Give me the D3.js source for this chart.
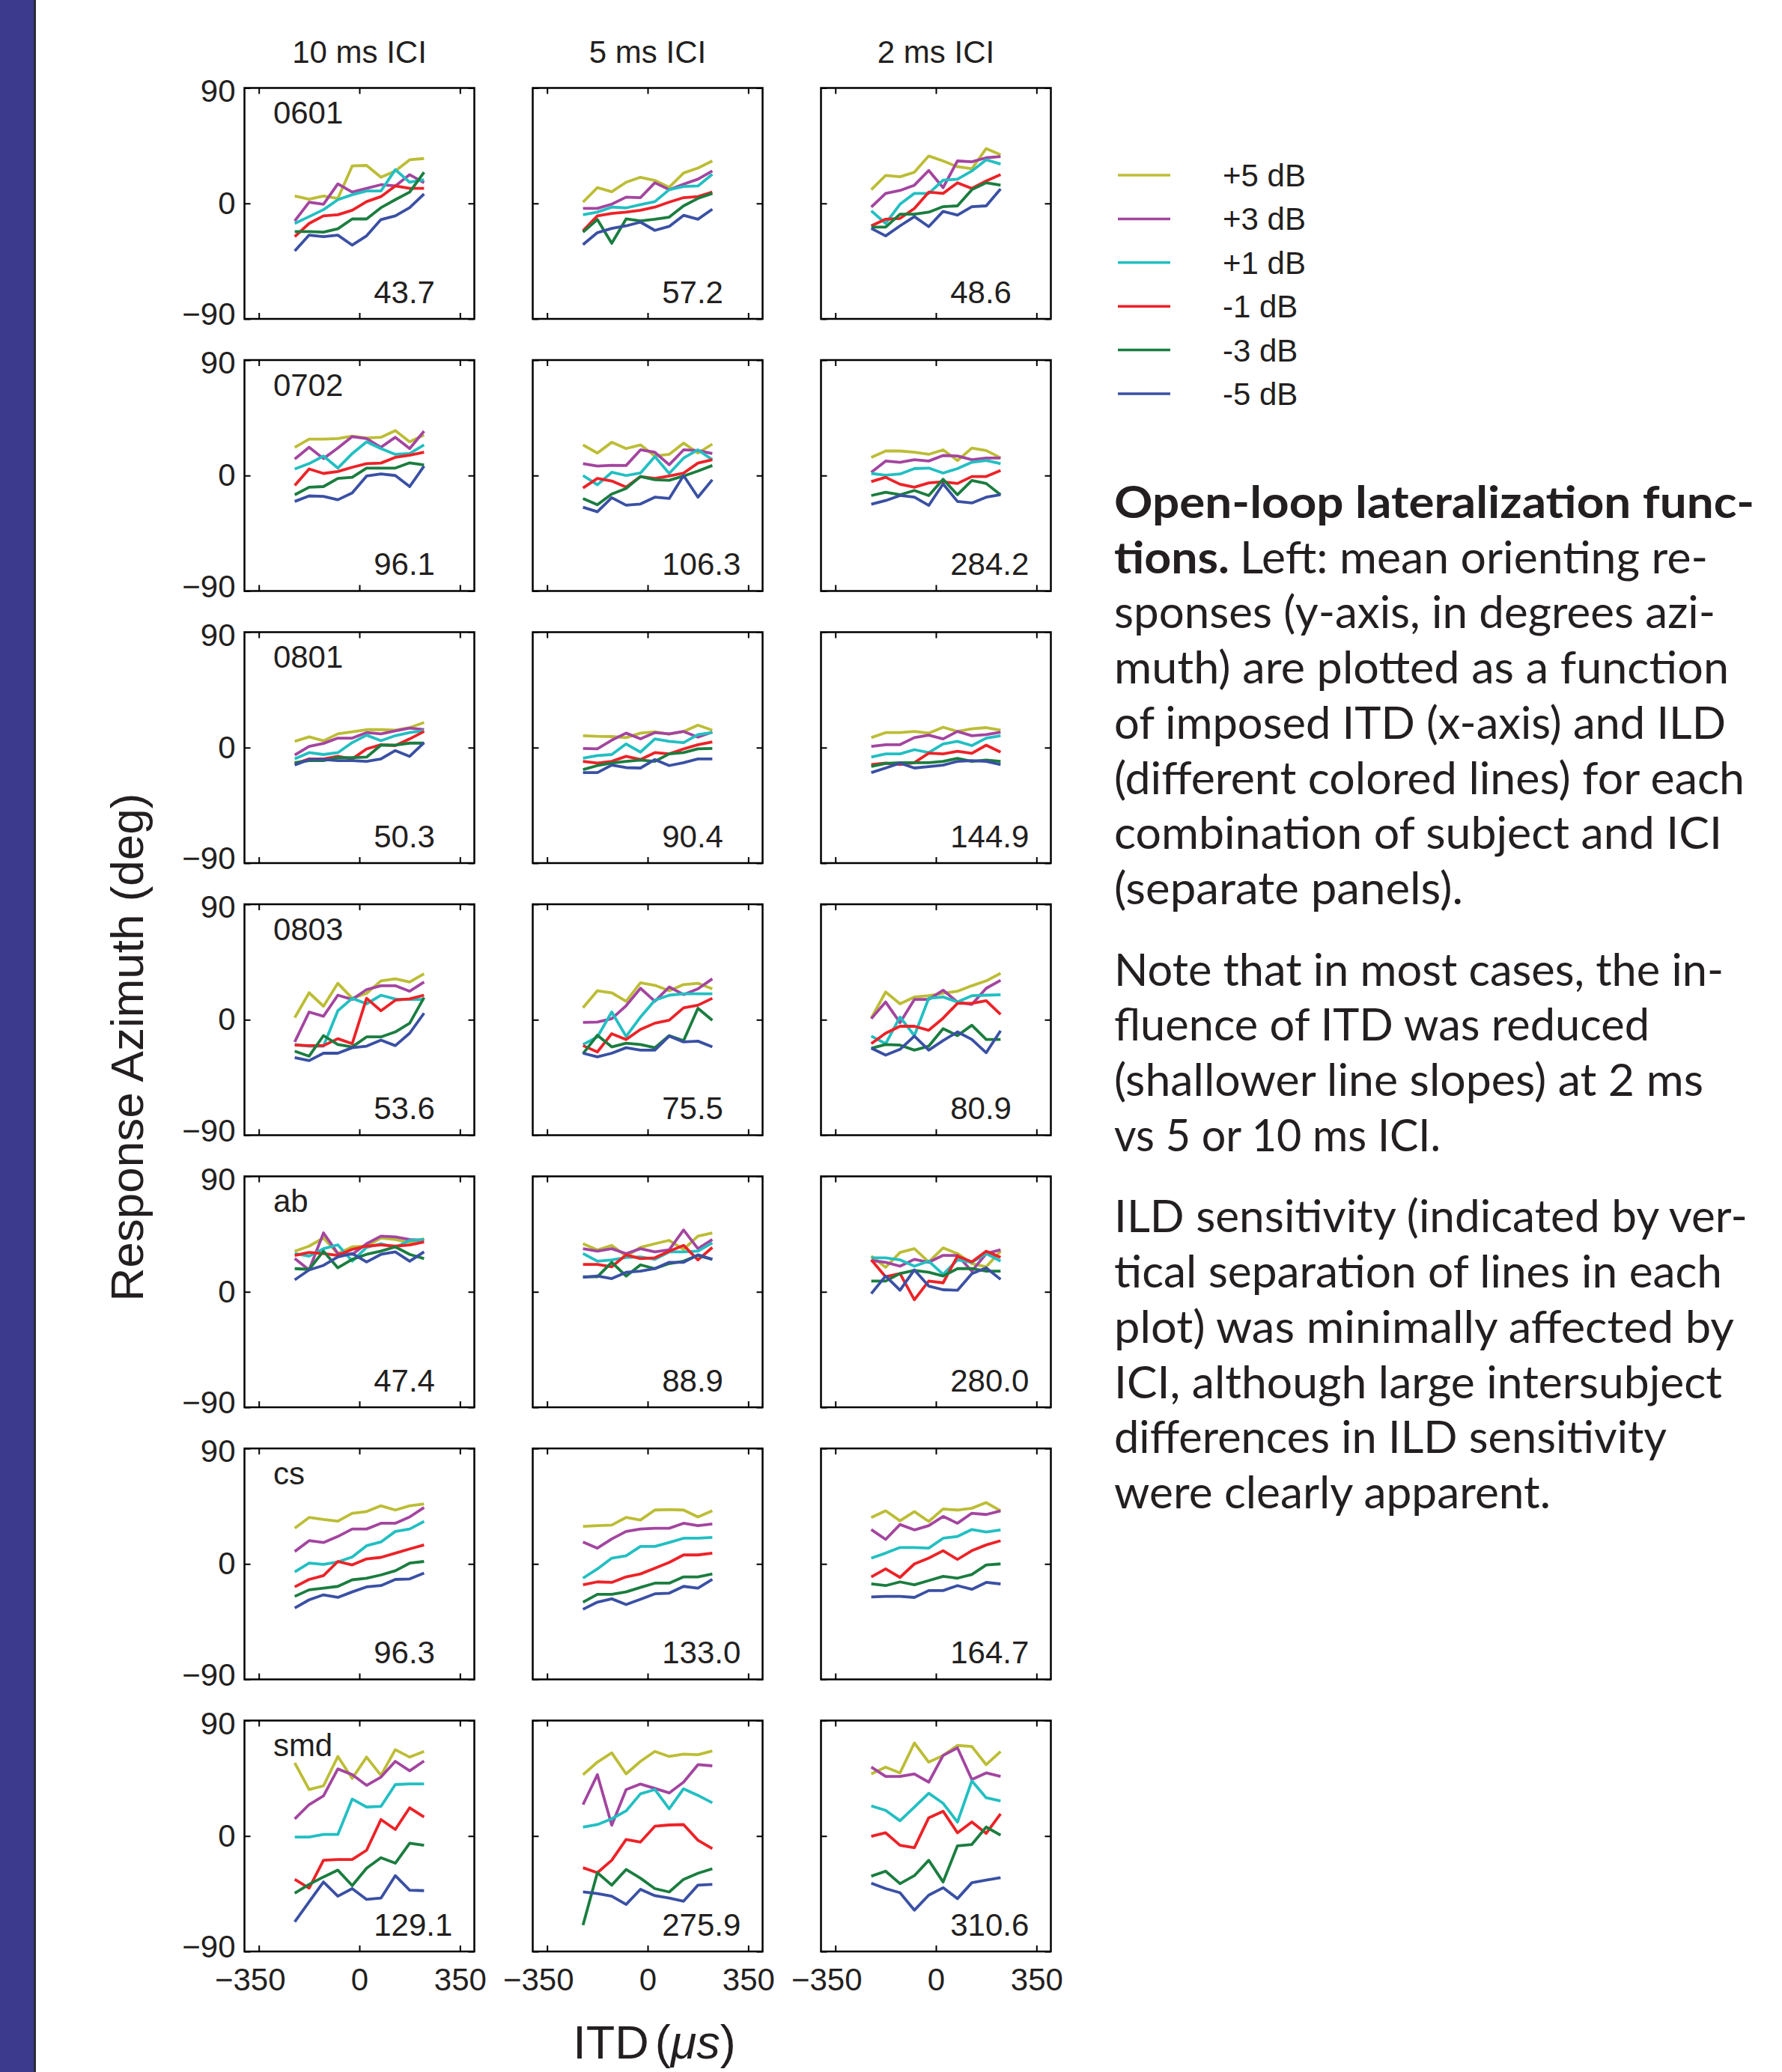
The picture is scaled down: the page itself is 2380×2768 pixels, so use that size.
<!DOCTYPE html>
<html><head><meta charset="utf-8">
<script src="https://cdn.jsdelivr.net/npm/d3@7"></script>
<style>
body{margin:0;background:#fff;}
svg{display:block;}
</style></head><body>
<svg id="chart" width="2380" height="2768"></svg>
<script>
// ---------- data ----------
const itd = [-225,-175,-125,-75,-25,25,75,125,175,225];
const ildLabels = ["+5 dB","+3 dB","+1 dB","-1 dB","-3 dB","-5 dB"];
const iciLabels = ["10 ms ICI","5 ms ICI","2 ms ICI"];
const subjects = ["0601","0702","0801","0803","ab","cs","smd"];
const xTicks = [-350,0,350];
const yTicks = [-90,0,90];
const fitNumbers = [
  [43.7,57.2,48.6],[96.1,106.3,284.2],[50.3,90.4,144.9],[53.6,75.5,80.9],
  [47.4,88.9,280.0],[96.3,133.0,164.7],[129.1,275.9,310.6]
];
// each: [10 ms, 5 ms, 2 ms], each ICI: [+5,+3,+1,-1,-3,-5 dB] series over itd
const resp0601 = [
 [[5.8,3.3,5.8,3.9,29.2,29.6,20.4,25.3,34.0,35.0],
  [-13.6,1.0,-0.6,15.2,8.8,11.7,14.6,13.6,22.4,16.1],
  [-15.6,-10.3,-4.9,2.9,6.8,9.7,9.7,26.3,16.5,18.5],
  [-25.9,-15.6,-9.7,-8.8,-5.3,1.4,5.3,13.6,11.7,11.7],
  [-22.0,-22.0,-22.4,-19.8,-12.1,-12.1,-3.3,2.9,8.8,24.3],
  [-37.0,-24.7,-25.9,-24.7,-32.5,-25.3,-12.6,-9.7,-3.3,7.4]],
 [[1.0,12.3,9.1,16.5,20.4,17.9,12.6,23.7,27.6,33.1],
  [-3.9,-3.9,-0.6,4.9,4.5,16.1,10.7,15.0,18.9,25.3],
  [-8.8,-6.8,-2.9,-3.5,-1.0,1.4,10.7,13.2,13.6,22.8],
  [-21.4,-9.7,-7.8,-6.8,-5.3,-2.9,1.0,4.5,5.3,8.8],
  [-22.4,-12.6,-31.1,-12.1,-13.6,-12.3,-10.7,-1.9,3.9,7.8],
  [-32.1,-22.8,-19.5,-17.5,-14.6,-21.0,-17.9,-9.3,-12.3,-4.5]],
 [[10.7,21.8,20.8,24.3,37.0,33.1,28.6,27.0,42.8,37.9],
  [-2.9,7.8,10.1,14.2,25.7,12.3,33.1,32.5,35.6,36.6],
  [-5.8,-15.6,-0.6,7.8,7.8,18.1,18.9,25.3,34.0,30.7],
  [-17.5,-12.3,-11.7,-3.9,8.8,7.8,16.1,11.7,17.5,22.4],
  [-18.5,-18.5,-8.4,-8.4,-6.8,-2.5,-1.9,10.7,16.1,14.2],
  [-19.5,-25.3,-17.5,-10.3,-18.1,-6.2,-9.1,-2.5,-1.9,11.3]]
];
const resp0702 = [
 [[22.0,28.4,28.4,28.8,30.7,29.2,29.8,35.0,26.3,31.7],
  [12.8,22.0,13.2,21.4,30.3,28.8,22.0,29.8,21.0,34.6],
  [5.1,9.3,15.2,5.8,17.1,26.3,21.0,16.5,17.1,23.9],
  [-7.8,5.1,1.6,3.1,6.4,9.3,9.7,14.2,15.8,18.1],
  [-15.0,-9.1,-8.6,-2.3,-1.4,5.8,5.8,5.8,9.9,8.2],
  [-20.2,-15.9,-16.3,-18.9,-13.6,-0.4,1.2,0.0,-8.6,7.4]],
 [[23.9,17.5,25.9,21.0,23.9,15.2,16.5,25.3,17.5,24.5],
  [9.3,7.4,8.0,7.8,20.0,18.1,8.4,20.0,19.5,17.1],
  [0.0,-7.2,2.5,0.0,1.9,14.8,1.6,13.6,20.0,12.3],
  [-9.7,-2.3,-4.3,-9.1,-0.8,-2.3,-0.4,1.9,9.7,12.3],
  [-17.9,-22.8,-14.4,-10.1,-0.8,-3.3,-3.7,-0.4,3.5,7.8],
  [-24.7,-28.2,-17.3,-23.1,-22.2,-16.9,-17.9,0.0,-16.9,-3.3]],
 [[14.2,19.1,19.1,18.1,16.5,20.0,11.7,21.4,19.5,13.8],
  [2.5,11.3,10.3,12.3,11.3,15.6,15.2,12.3,13.6,13.6],
  [1.6,0.2,1.2,5.4,5.8,1.9,5.4,10.3,11.7,9.3],
  [-4.7,-1.4,-6.8,-9.1,-5.8,-4.9,-6.2,-0.8,-0.8,3.9],
  [-15.6,-13.0,-15.0,-11.7,-15.6,-2.9,-15.0,-3.9,-6.2,-15.0],
  [-22.4,-19.5,-15.6,-16.9,-23.3,-6.6,-20.2,-21.4,-16.9,-15.0]]
];
const resp0801 = [
 [[4.9,8.4,5.3,10.7,12.3,14.0,14.0,13.6,15.6,19.5],
  [-5.8,1.0,3.3,7.4,7.4,11.7,10.7,13.0,15.2,14.0],
  [-8.8,-3.9,-5.4,-3.9,3.9,9.7,5.4,9.3,11.7,13.2],
  [-12.6,-8.8,-8.8,-6.8,-8.8,-1.0,2.3,1.6,6.8,12.6],
  [-11.7,-10.1,-10.1,-7.8,-7.8,-7.4,1.9,1.9,3.5,3.5],
  [-13.6,-9.3,-9.3,-10.1,-10.1,-10.7,-8.8,-2.3,-6.8,3.9]],
 [[9.3,8.8,8.6,7.8,11.3,12.3,10.5,12.6,17.5,13.6],
  [-0.6,-1.0,5.8,11.3,6.8,11.7,10.7,12.6,8.2,12.1],
  [-8.2,-6.2,-5.4,2.9,-3.5,6.8,4.9,3.9,10.1,11.7],
  [-10.7,-12.1,-10.7,-6.8,-9.3,-3.9,-4.9,-1.0,2.3,4.5],
  [-17.1,-14.0,-12.1,-10.7,-9.7,-10.7,-4.9,-3.9,-1.0,-0.6],
  [-19.5,-19.5,-13.6,-15.6,-15.9,-9.3,-14.0,-11.7,-8.8,-8.8]],
 [[7.8,11.7,11.7,12.6,11.3,15.9,12.6,14.6,15.6,13.6],
  [1.0,2.3,2.3,7.8,9.7,6.8,12.6,9.3,10.1,12.1],
  [-7.4,-4.9,-4.9,-1.6,-3.9,2.9,4.9,1.6,7.4,9.3],
  [-13.2,-12.1,-13.2,-11.7,-4.3,-4.9,-2.9,-4.5,1.9,-3.5],
  [-14.6,-12.3,-11.7,-11.7,-11.7,-10.7,-8.4,-10.7,-9.7,-10.7],
  [-19.5,-15.9,-12.1,-15.9,-14.8,-13.6,-10.7,-10.1,-10.7,-13.2]]
];
const resp0803 = [
 [[1.6,21.0,10.5,28.4,16.7,20.6,30.3,31.9,29.4,35.8],
  [-17.3,6.0,2.7,19.1,15.8,23.5,26.5,26.5,22.2,29.4],
  [-19.3,-20.6,-20.6,7.0,16.7,12.4,19.1,16.1,15.8,15.8],
  [-19.8,-20.2,-20.2,-14.8,-18.7,16.7,7.0,15.2,16.3,19.1],
  [-24.5,-28.4,-12.4,-19.3,-21.2,-13.4,-13.4,-9.5,-2.7,17.3],
  [-29.6,-31.9,-26.1,-26.1,-21.8,-20.6,-15.9,-20.2,-10.5,5.1]],
 [[9.3,22.6,21.0,14.4,28.8,26.8,22.6,27.4,28.4,24.1],
  [-2.1,-1.8,0.8,10.9,24.5,14.4,25.5,19.6,24.1,31.9],
  [-19.3,-13.4,6.0,-13.0,2.1,15.2,19.1,20.2,20.2,20.2],
  [-20.2,-25.1,-10.9,-15.4,-7.6,-2.7,-0.4,9.3,11.3,16.7],
  [-26.5,-12.1,-21.2,-18.3,-19.3,-21.8,-12.4,-16.3,8.9,-0.4],
  [-26.1,-29.0,-26.1,-21.8,-23.7,-23.7,-12.8,-17.3,-16.7,-21.2]],
 [[1.2,21.6,12.4,17.7,18.7,20.6,22.2,26.5,30.3,36.2],
  [0.8,13.8,-2.3,15.8,15.8,23.0,13.8,11.9,24.5,30.7],
  [-12.8,-18.7,2.1,-12.4,16.7,17.7,13.8,18.7,19.1,19.5],
  [-18.7,-10.5,-5.1,-5.1,-8.2,1.2,12.8,12.8,14.8,4.1],
  [-22.2,-19.3,-19.8,-23.7,-20.6,-7.0,-12.4,-4.3,-15.4,-15.4],
  [-22.2,-27.6,-23.1,-12.8,-23.7,-16.3,-9.5,-15.4,-25.7,-8.6]]
];
const respAb = [
 [[31.7,35.6,42.0,29.8,35.0,35.6,42.0,40.8,38.5,41.4],
  [25.9,17.1,45.9,29.8,29.2,37.5,43.4,42.8,40.8,40.1],
  [29.8,27.8,33.6,36.6,23.9,34.6,37.5,34.6,40.1,40.8],
  [28.4,30.7,29.8,28.4,33.1,35.6,36.6,35.6,36.6,38.9],
  [18.1,17.5,31.7,18.7,25.3,29.2,31.7,35.0,29.2,25.9],
  [9.3,17.1,20.6,27.2,29.8,23.3,29.2,31.1,23.9,31.1]],
 [[37.5,32.7,36.2,27.8,34.6,37.5,40.1,33.1,43.4,45.9],
  [33.6,31.7,33.6,29.8,33.6,31.1,32.7,48.2,33.6,40.8],
  [29.8,23.9,24.9,26.8,27.2,25.3,31.1,31.1,31.7,38.1],
  [21.4,21.4,19.5,28.8,25.9,26.5,31.7,36.2,24.9,34.6],
  [11.7,11.7,23.0,12.3,21.0,18.1,22.0,23.9,28.4,25.3],
  [11.3,12.3,10.3,15.2,16.1,18.1,23.0,23.0,28.8,25.3]],
 [[27.8,19.1,30.7,33.6,23.3,34.2,29.8,22.0,19.5,31.7],
  [24.5,23.0,20.0,25.3,23.0,28.4,28.4,16.1,29.8,32.7],
  [26.5,26.5,24.9,20.0,23.9,13.6,24.9,23.0,29.8,23.9],
  [24.9,11.7,14.2,-6.2,8.4,7.0,27.8,23.3,31.7,26.8],
  [8.4,8.4,14.2,16.7,15.2,12.3,18.1,18.1,16.1,16.1],
  [-1.4,12.3,1.2,17.1,4.5,1.6,1.2,14.2,18.7,9.7]]
];
const respCs = [
 [[27.8,36.2,34.6,33.3,39.5,40.8,45.3,42.0,45.3,46.7],
  [9.7,18.1,16.7,21.4,27.2,27.2,31.7,31.7,36.6,44.0],
  [-6.2,0.6,-0.4,1.6,5.4,14.2,17.1,25.3,27.2,33.1],
  [-17.9,-12.1,-9.1,1.9,-0.8,3.9,5.1,8.4,11.7,14.8],
  [-25.3,-20.2,-18.9,-17.5,-12.4,-11.1,-8.6,-5.3,0.6,1.9],
  [-34.4,-28.0,-24.1,-26.1,-21.8,-17.9,-16.9,-12.1,-11.7,-7.2]],
 [[29.2,29.8,30.3,36.2,34.2,42.0,42.4,42.0,36.6,41.4],
  [17.1,12.3,19.5,25.3,27.2,27.8,27.8,31.7,29.8,31.1],
  [-11.1,-3.9,4.5,6.4,13.6,13.6,16.7,20.0,20.0,20.6],
  [-16.3,-14.0,-14.4,-10.1,-7.8,-3.3,1.2,7.0,7.0,8.4],
  [-29.8,-23.7,-23.7,-21.8,-18.3,-15.0,-15.0,-10.1,-10.1,-7.8],
  [-35.4,-29.8,-27.2,-31.7,-27.6,-23.3,-22.8,-17.5,-18.9,-12.1]],
 [[36.2,41.4,33.6,40.8,33.1,42.8,42.0,43.4,47.8,41.4],
  [26.8,19.1,30.7,26.5,29.8,37.0,31.7,39.5,38.5,41.4],
  [4.5,8.4,12.8,12.8,12.3,20.0,21.4,26.8,24.9,26.5],
  [-10.1,-3.9,-10.5,0.0,4.5,10.3,3.5,10.3,14.8,18.1],
  [-15.6,-16.9,-14.0,-16.3,-13.0,-9.7,-11.1,-8.2,-0.8,0.0],
  [-25.7,-25.3,-25.3,-26.1,-20.8,-20.8,-16.9,-19.8,-14.4,-15.6]]
];
const respSmd = [
 [[57.0,36.2,39.1,62.0,44.9,61.5,47.3,67.3,61.5,65.9],
  [13.4,24.5,31.3,52.3,47.8,39.5,45.9,58.2,50.8,58.5],
  [-0.8,-0.8,1.2,1.2,28.8,22.6,23.1,40.1,40.6,40.6],
  [-33.8,-40.6,-18.9,-18.3,-18.3,-11.1,12.8,5.1,22.0,14.8],
  [-44.5,-37.7,-31.9,-26.6,-38.7,-25.1,-16.9,-21.2,-5.6,-7.2],
  [-66.9,-51.3,-35.8,-46.9,-41.0,-49.4,-48.4,-30.9,-42.2,-42.6]],
 [[47.8,57.6,64.8,48.4,58.2,65.9,62.0,63.8,63.4,66.3],
  [24.5,47.8,8.4,36.2,40.5,37.1,33.6,42.0,55.6,54.7],
  [7.0,8.9,13.4,19.6,32.9,36.2,21.2,36.8,31.7,25.9],
  [-24.7,-28.6,-18.9,-2.7,-4.7,7.6,8.6,8.9,-3.3,-9.9],
  [-69.4,-28.6,-38.3,-26.1,-32.9,-41.0,-43.6,-33.8,-29.0,-25.5],
  [-43.6,-44.9,-46.9,-53.3,-41.6,-46.5,-48.4,-50.8,-38.3,-37.7]],
 [[48.4,53.7,49.2,72.5,57.6,62.8,70.6,69.8,55.6,65.9],
  [53.7,46.5,46.5,48.4,42.0,62.8,68.7,44.0,49.2,46.5],
  [23.5,20.0,11.9,22.6,33.3,25.5,10.9,43.0,29.8,27.4],
  [-0.2,2.5,-7.2,-9.1,14.2,19.3,2.5,10.9,2.1,17.3],
  [-31.3,-27.4,-37.1,-30.9,-18.9,-35.8,-7.6,-6.6,7.0,0.6],
  [-36.8,-41.0,-44.2,-57.8,-46.1,-40.3,-48.8,-36.4,-34.4,-32.5]]
];
const captionLines = [
  "Open-loop lateralization func-",
  "tions.",
  "Left: mean orienting re-",
  "sponses (y-axis, in degrees azi-",
  "muth) are plotted as a function",
  "of imposed ITD (x-axis) and ILD",
  "(different colored lines) for each",
  "combination of subject and ICI",
  "(separate panels).",
  "Note that in most cases, the in-",
  "fluence of ITD was reduced",
  "(shallower line slopes) at 2 ms",
  "vs 5 or 10 ms ICI.",
  "ILD sensitivity (indicated by ver-",
  "tical separation of lines in each",
  "plot) was minimally affected by",
  "ICI, although large intersubject",
  "differences in ILD sensitivity",
  "were clearly apparent."
];

// ---------- style / layout ----------
const lineColors = ["#bcbd35","#a3459f","#22bfc2","#ed2227","#1a7d3f","#3a50a4"];
const responses = [resp0601, resp0702, resp0801, resp0803, respAb, respCs, respSmd];
const font = "'Liberation Sans', Arial, Helvetica, sans-serif";
const ink = "#231f20";
const panelW = 307, panelH = 308.5, col0 = 326.5, colStep = 385, row0 = 117.5, rowStep = 363.5;

const svg = d3.select("#chart");
svg.append("rect").attr("width",2380).attr("height",2768).attr("fill","#fff");
svg.append("rect").attr("x",0).attr("y",0).attr("width",45).attr("height",2768).attr("fill","#3b3a8c");
svg.append("rect").attr("x",45).attr("y",0).attr("width",3).attr("height",2768).attr("fill","#2b2a35");

const x = d3.scaleLinear().domain([-400,400]).range([0,panelW]);
const y = d3.scaleLinear().domain([-90,90]).range([panelH,0]);
const line = d3.line().x((d,i)=>x(itd[i])).y(d=>y(d));

function styleAxis(g, labelled){
  g.select(".domain").remove();
  g.selectAll(".tick line").attr("stroke","#000").attr("stroke-width",2);
  if (labelled) {
    g.selectAll(".tick text").attr("fill",ink).attr("font-family",font).attr("font-size",42);
  } else {
    g.selectAll(".tick text").remove();
  }
}

responses.forEach((subj, r) => {
  subj.forEach((series, c) => {
    const g = svg.append("g").attr("transform",`translate(${col0+c*colStep},${row0+r*rowStep})`);
    g.selectAll("path.series").data(series).join("path")
      .attr("class","series")
      .attr("d", line)
      .attr("fill","none")
      .attr("stroke",(d,i)=>lineColors[i])
      .attr("stroke-width",3.8)
      .attr("stroke-linejoin","round")
      .attr("stroke-linecap","butt");

    const last = r === responses.length-1;
    g.append("g").attr("transform",`translate(0,${panelH})`)
      .call(d3.axisBottom(x).tickValues(xTicks).tickSize(-8).tickPadding(22).tickFormat(d3.format("d")))
      .call(a => styleAxis(a, last))
      .call(a => a.selectAll(".tick text").filter(d => d < 0).attr("dx",-12));
    g.append("g")
      .call(d3.axisTop(x).tickValues(xTicks).tickSize(-8))
      .call(a => styleAxis(a, false));
    g.append("g")
      .call(d3.axisLeft(y).tickValues(yTicks).tickSize(-8).tickPadding(12).tickFormat(d3.format("d")))
      .call(a => styleAxis(a, c === 0))
      .call(a => a.selectAll(".tick text").attr("dy", d => d > 0 ? "0.42em" : d < 0 ? "0.18em" : "0.32em"));
    g.append("g").attr("transform",`translate(${panelW},0)`)
      .call(d3.axisRight(y).tickValues(yTicks).tickSize(-8))
      .call(a => styleAxis(a, false));

    g.append("rect").attr("width",panelW).attr("height",panelH)
      .attr("fill","none").attr("stroke","#000").attr("stroke-width",2.5);

    if (c === 0) {
      g.append("text").attr("x",x(-300)).attr("y",y(62))
        .attr("font-family",font).attr("font-size",42).attr("fill",ink)
        .text(subjects[r]);
    }
    g.append("text").attr("x",x(50)).attr("y",y(-77.5))
      .attr("font-family",font).attr("font-size",42).attr("fill",ink)
      .text(fitNumbers[r][c].toFixed(1));

    if (r === 0) {
      g.append("text").attr("x",panelW/2).attr("y",-34)
        .attr("text-anchor","middle")
        .attr("font-family",font).attr("font-size",42).attr("fill",ink)
        .text(iciLabels[c]);
    }
  });
});

// axis titles
svg.append("text")
  .attr("transform","translate(191,1399) rotate(-90)")
  .attr("text-anchor","middle")
  .attr("font-family",font).attr("font-size",62).attr("fill",ink)
  .text("Response Azimuth (deg)");

const xt = svg.append("text").attr("x",874).attr("y",2750)
  .attr("text-anchor","middle")
  .attr("font-family",font).attr("font-size",63).attr("fill",ink);
xt.append("tspan").text("ITD");
xt.append("tspan").attr("dx",8).text("(");
xt.append("tspan").attr("font-style","italic").text("\u03bcs");
xt.append("tspan").text(")");

// legend
const leg = svg.append("g");
ildLabels.forEach((lab,i) => {
  const ly = 234 + i*58.4;
  leg.append("line").attr("x1",1493).attr("x2",1563).attr("y1",ly).attr("y2",ly)
    .attr("stroke",lineColors[i]).attr("stroke-width",3.5);
  leg.append("text").attr("x",1633).attr("y",ly+15)
    .attr("font-family",font).attr("font-size",42).attr("fill",ink)
    .text(lab);
});

// caption
const capFont = "Lato, 'Open Sans', sans-serif";
const capSize = 60, lead = 73.7, paraGap = 35;
// [line index into captionLines, x, row, paragraph, width, bold]
const capLayout = [
  [0,1488,0,0,855,true],
  [1,1488,1,0,154,true],
  [2,1656,1,0,625,false],
  [3,1488,2,0,803,false],
  [4,1488,3,0,821,false],
  [5,1488,4,0,817,false],
  [6,1488,5,0,842,false],
  [7,1488,6,0,812,false],
  [8,1488,7,0,466,false],
  [9,1488,8,1,814,false],
  [10,1488,9,1,715,false],
  [11,1488,10,1,787,false],
  [12,1488,11,1,436,false],
  [13,1488,12,2,846,false],
  [14,1488,13,2,812,false],
  [15,1488,14,2,828,false],
  [16,1488,15,2,812,false],
  [17,1488,16,2,738,false],
  [18,1488,17,2,583,false]
];
capLayout.forEach(([idx,cx,row,para,w,bold]) => {
  svg.append("text")
    .attr("x",cx).attr("y",692 + row*lead + para*paraGap)
    .attr("font-family",capFont).attr("font-size",capSize)
    .attr("font-weight",bold?700:400).attr("fill",ink)
    .attr("textLength",w).attr("lengthAdjust","spacingAndGlyphs")
    .text(captionLines[idx]);
});
</script>
</body></html>
